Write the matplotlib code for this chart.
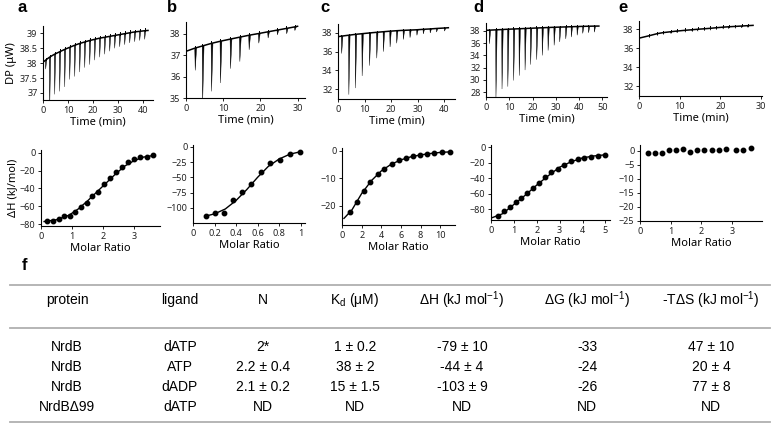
import matplotlib
matplotlib.use("Agg")
import matplotlib.pyplot as plt

plt.rcParams.update({
    "font.family": ["Noto Sans", "DejaVu Sans"],
    "mathtext.fontset": "custom",
    "mathtext.rm": "Liberation Sans",
    "mathtext.it": "Liberation Sans:italic",
    "axes.linewidth": 0.8,
    "xtick.major.size": 2.5,
    "ytick.major.size": 2.5,
    "xtick.major.width": 0.7,
    "ytick.major.width": 0.7,
    "xtick.labelsize": 6.5,
    "ytick.labelsize": 6.5,
    "xtick.major.pad": 1.5,
    "ytick.major.pad": 1.5,
})

W, H = 774, 442

# ---- thermograms (DP vs time): injection time, baseline at injection, spike tip ----
a_start, a_end = (0.0, 38.03), (42.0, 39.1)
a_t = [1.0, 2.6, 4.6, 6.6, 8.6, 10.6, 12.6, 14.6, 16.6, 18.6, 20.6, 22.6,
       24.6, 26.6, 28.6, 30.6, 32.6, 34.6, 36.6, 38.6, 40.6]
a_base = [38.1, 38.2, 38.3, 38.38, 38.46, 38.53, 38.6, 38.66, 38.71, 38.76, 38.8,
          38.84, 38.87, 38.9, 38.93, 38.96, 38.99, 39.02, 39.05, 39.07, 39.09]
a_tip = [37.8, 36.5, 36.95, 37.05, 37.2, 37.45, 37.55, 37.7, 37.85, 37.95, 38.1,
         38.2, 38.3, 38.4, 38.5, 38.55, 38.62, 38.68, 38.72, 38.76, 38.8]

b_start, b_end = (0.0, 37.18), (30.0, 38.35)
b_t = [2.4, 4.4, 6.8, 9.2, 11.9, 14.4, 16.9, 19.5, 22.0, 24.5, 27.0, 29.2]
b_base = [37.33, 37.43, 37.55, 37.65, 37.75, 37.84, 37.93, 38.01, 38.09, 38.17, 38.25, 38.32]
b_tip = [36.29, 34.8, 35.31, 35.7, 36.37, 36.7, 37.25, 37.56, 37.8, 37.95, 38.0, 38.15]

c_start, c_end = (0.0, 37.6), (41.5, 38.56)
c_t = [1.3, 4.0, 6.5, 9.0, 11.8, 14.5, 17.0, 19.5, 22.0, 24.5, 27.0, 29.6, 32.0, 34.6, 37.0, 40.0]
c_base = [37.66, 37.76, 37.85, 37.92, 38.0, 38.07, 38.13, 38.19, 38.24, 38.28,
          38.31, 38.34, 38.39, 38.43, 38.48, 38.53]
c_tip = [35.8, 31.4, 32.1, 33.4, 34.5, 35.3, 36.0, 36.5, 36.9, 37.3, 37.5,
         37.75, 37.9, 38.0, 38.1, 38.2]

d_start, d_end = (0.0, 38.1), (48.5, 38.8)
d_t = [1.4, 4.2, 6.8, 9.3, 11.8, 14.2, 16.7, 19.1, 21.7, 24.1, 26.6, 29.2,
       31.6, 34.2, 36.6, 39.1, 41.5, 44.0, 46.5]
d_base = [38.13, 38.18, 38.23, 38.28, 38.32, 38.36, 38.4, 38.44, 38.48, 38.52,
          38.56, 38.6, 38.63, 38.66, 38.69, 38.72, 38.75, 38.77, 38.79]
d_tip = [35.9, 27.0, 28.5, 28.9, 29.9, 30.7, 31.6, 32.5, 33.3, 34.0, 34.8,
         35.65, 36.2, 36.7, 37.0, 37.3, 37.6, 37.7, 37.8]

e_start, e_end = (0.0, 37.04), (28.0, 38.39)
e_t = [2.5, 4.5, 6.0, 7.8, 9.3, 11.3, 13.0, 14.4, 16.0, 17.5, 19.0, 20.6, 22.0, 23.6, 25.2, 26.7]
e_base = [37.3, 37.52, 37.63, 37.72, 37.79, 37.87, 37.93, 37.98, 38.03, 38.08,
          38.14, 38.2, 38.24, 38.28, 38.32, 38.36]
e_tip = [37.1, 37.32, 37.43, 37.52, 37.59, 37.67, 37.73, 37.78, 37.83, 37.88,
         37.94, 38.0, 38.04, 38.08, 38.12, 38.16]

# ---- binding isotherms (dH vs molar ratio): points and fitted curve ----
a_mr = [0.19, 0.39, 0.57, 0.75, 0.92, 1.10, 1.29, 1.48, 1.66, 1.83, 2.04, 2.23,
        2.42, 2.60, 2.82, 3.00, 3.20, 3.41, 3.62]
a_dh = [-76.3, -75.9, -74.0, -70.7, -70.7, -65.9, -60.3, -55.8, -48.4, -43.5,
        -35.3, -27.9, -21.2, -15.6, -10.8, -7.4, -5.2, -4.5, -2.6]
a_fit_x = [0.1, 0.5, 0.9, 1.2, 1.5, 1.8, 2.1, 2.4, 2.7, 3.0, 3.3, 3.65]
a_fit_y = [-77, -75, -70, -63, -54, -44, -34, -24, -15, -9, -5, -3]

b_mr = [0.124, 0.208, 0.286, 0.373, 0.457, 0.540, 0.627, 0.714, 0.807, 0.90, 0.99]
b_dh = [-113, -108, -109, -87.4, -74.9, -61.2, -41.5, -26.2, -21.9, -12, -8.2]
b_fit_x = [0.11, 0.2, 0.3, 0.4, 0.5, 0.6, 0.7, 0.8, 0.9, 1.0]
b_fit_y = [-114, -110, -102, -88, -70, -50, -32, -20, -12, -8]

c_mr = [0.85, 1.53, 2.2, 2.88, 3.63, 4.3, 5.05, 5.76, 6.5, 7.22, 7.97, 8.64, 9.39, 10.17, 11.0]
c_dh = [-22.1, -18.4, -14.4, -11.2, -8.4, -6.5, -4.85, -3.5, -2.7, -1.8, -1.45,
        -1.1, -0.85, -0.5, -0.36]
c_fit_x = [0.2, 1, 2, 3, 4, 5, 6, 7, 8, 9, 10, 11]
c_fit_y = [-24.5, -21.5, -15.5, -10.8, -7.3, -4.9, -3.3, -2.2, -1.5, -1.0, -0.6, -0.4]

d_mr = [0.29, 0.55, 0.82, 1.08, 1.33, 1.59, 1.84, 2.1, 2.36, 2.64, 2.92, 3.21,
        3.5, 3.79, 4.08, 4.37, 4.66, 4.96]
d_dh = [-88.5, -83, -77.4, -70.2, -66, -59.6, -52.3, -46, -39.1, -32.8, -27.7,
        -22.6, -18.3, -15.7, -14, -12.3, -11.5, -10.6]
d_fit_x = [0.05, 0.5, 1, 1.5, 2, 2.5, 3, 3.5, 4, 4.5, 5]
d_fit_y = [-91, -86, -74, -62, -49, -37, -26, -19, -14, -11.5, -10]

e_mr = [0.27, 0.49, 0.72, 0.93, 1.18, 1.40, 1.64, 1.85, 2.07, 2.34, 2.56, 2.81, 3.11, 3.36, 3.62]
e_dh = [-0.6, -0.6, -0.6, 0.36, 0.36, 0.6, -0.24, 0.36, 0.36, 0.36, 0.36, 0.72, 0.36, 0.36, 0.96]

# ---- table f ----
headers = ["protein", "ligand", "N", r"K$_\mathrm{d}$ (μM)", r"ΔH (kJ mol$^{-1}$)",
           r"ΔG (kJ mol$^{-1}$)", r"-TΔS (kJ mol$^{-1}$)"]
proteins = ["NrdB", "NrdB", "NrdB", "NrdBΔ99"]
ligands = ["dATP", "ATP", "dADP", "dATP"]
n_vals = ["2*", "2.2 ± 0.4", "2.1 ± 0.2", "ND"]
kd_vals = ["1 ± 0.2", "38 ± 2", "15 ± 1.5", "ND"]
dh_vals = ["-79 ± 10", "-44 ± 4", "-103 ± 9", "ND"]
dg_vals = ["-33", "-24", "-26", "ND"]
tds_vals = ["47 ± 10", "20 ± 4", "77 ± 8", "ND"]


def px_axes(fig, left, top, right, bottom):
    return fig.add_axes([left / W, 1 - bottom / H, (right - left) / W, (bottom - top) / H])


def style(ax):
    ax.spines["top"].set_visible(False)
    ax.spines["right"].set_visible(False)
    ax.tick_params(colors="#222222")


def thermogram(ax, start, end, t, base, tip, width, up, xlim, ylim, xticks, yticks):
    ax.plot([start[0]] + t + [end[0]], [start[1]] + base + [end[1]], color="black", lw=1.1)
    for ti, bi, di in zip(t, base, tip):
        ax.fill([ti - 0.05, ti + 0.08, ti + width], [bi, di, bi], color="black", lw=0.3)
        ax.plot([ti, ti], [bi, bi + up], color="black", lw=0.7)
    ax.set_xlim(*xlim)
    ax.set_ylim(*ylim)
    ax.set_xticks(xticks)
    ax.set_yticks(yticks)
    ax.set_xlabel("Time (min)", fontsize=8, labelpad=1.5)
    style(ax)


def isotherm(ax, mr, dh, fit_x, fit_y, xlim, ylim, xticks, yticks, xtl=None):
    if fit_x is not None:
        ax.plot(fit_x, fit_y, color="black", lw=1.0)
    ax.plot(mr, dh, "o", color="black", ms=3.2)
    ax.set_xlim(*xlim)
    ax.set_ylim(*ylim)
    ax.set_xticks(xticks)
    if xtl is not None:
        ax.set_xticklabels(xtl)
    ax.set_yticks(yticks)
    ax.set_xlabel("Molar Ratio", fontsize=8, labelpad=1.5)
    style(ax)


fig = plt.figure(figsize=(W / 100, H / 100), dpi=100)

# table overlay in pixel coordinates
tab = fig.add_axes([0, 0, 1, 1])
tab.set_xlim(0, W)
tab.set_ylim(H, 0)
tab.axis("off")
for yl in (285, 328, 422):
    tab.plot([10, 770], [yl, yl], color="#b0b0b0", lw=1.3)
col_x = [67, 180, 263, 355, 462, 587, 711]
row_y = [347, 367, 387, 407]
for cx, hd in zip(col_x, headers):
    tab.text(cx, 300, hd, ha="center", va="center", fontsize=10, family="Liberation Sans")
columns = [proteins, ligands, n_vals, kd_vals, dh_vals, dg_vals, tds_vals]
for cx, col in zip(col_x, columns):
    for ry, val in zip(row_y, col):
        tab.text(cx, ry, val, ha="center", va="center", fontsize=10, family="Liberation Sans")

for lab, (lx, ly) in zip("abcdef", [(22, 8), (172, 8), (325, 8), (478, 8), (623, 8), (25, 265)]):
    tab.text(lx, ly, lab, ha="center", va="center", fontsize=12, fontweight="bold",
             family="Liberation Sans")

# top row: thermograms
ax = px_axes(fig, 43, 26, 153, 100)
thermogram(ax, a_start, a_end, a_t, a_base, a_tip, 0.45, 0.08, (0, 44), (36.76, 39.25),
           [0, 10, 20, 30, 40], [37, 37.5, 38, 38.5, 39])
ax.set_yticklabels(["37", "37.5", "38", "38.5", "39"])
ax.set_ylabel("DP (μW)", fontsize=8, labelpad=1.5)

ax = px_axes(fig, 186, 22, 305, 98)
thermogram(ax, b_start, b_end, b_t, b_base, b_tip, 0.45, 0.1, (0, 32), (35, 38.55),
           [0, 10, 20, 30], [35, 36, 37, 38])

ax = px_axes(fig, 338, 24, 455, 99)
thermogram(ax, c_start, c_end, c_t, c_base, c_tip, 0.55, 0.1, (0, 44), (30.93, 38.96),
           [0, 10, 20, 30, 40], [32, 34, 36, 38])

ax = px_axes(fig, 486, 23, 607, 97)
thermogram(ax, d_start, d_end, d_t, d_base, d_tip, 0.6, 0.25, (0, 52), (27.2, 39.3),
           [0, 10, 20, 30, 40, 50], [28, 30, 32, 34, 36, 38])

ax = px_axes(fig, 639, 21, 762, 96)
thermogram(ax, e_start, e_end, e_t, e_base, e_tip, 0.0, 0.2, (0, 30.2), (30.95, 38.85),
           [0, 10, 20, 30], [32, 34, 36, 38])

# bottom row: isotherms
ax = px_axes(fig, 41, 150, 160, 226)
isotherm(ax, a_mr, a_dh, a_fit_x, a_fit_y, (0, 3.84), (-82, 3),
         [0, 1, 2, 3], [0, -20, -40, -60, -80])
ax.set_ylabel("ΔH (kJ/mol)", fontsize=8, labelpad=1.5)

ax = px_axes(fig, 193, 145, 305, 223)
isotherm(ax, b_mr, b_dh, b_fit_x, b_fit_y, (0, 1.04), (-125, 3),
         [0, 0.2, 0.4, 0.6, 0.8, 1.0], [0, -25, -50, -75, -100],
         ["0", "0.2", "0.4", "0.6", "0.8", "1"])

ax = px_axes(fig, 342, 148, 455, 225)
isotherm(ax, c_mr, c_dh, c_fit_x, c_fit_y, (0, 11.5), (-26.9, 1),
         [0, 2, 4, 6, 8, 10], [0, -10, -20])

ax = px_axes(fig, 491, 145, 610, 220)
isotherm(ax, d_mr, d_dh, d_fit_x, d_fit_y, (0, 5.2), (-94, 2.6),
         [0, 1, 2, 3, 4, 5], [0, -20, -40, -60, -80])

ax = px_axes(fig, 640, 145, 762, 221)
isotherm(ax, e_mr, e_dh, None, None, (0, 3.97), (-25, 2.1),
         [0, 1, 2, 3], [0, -5, -10, -15, -20, -25])

fig.savefig("out.png", dpi=100)
